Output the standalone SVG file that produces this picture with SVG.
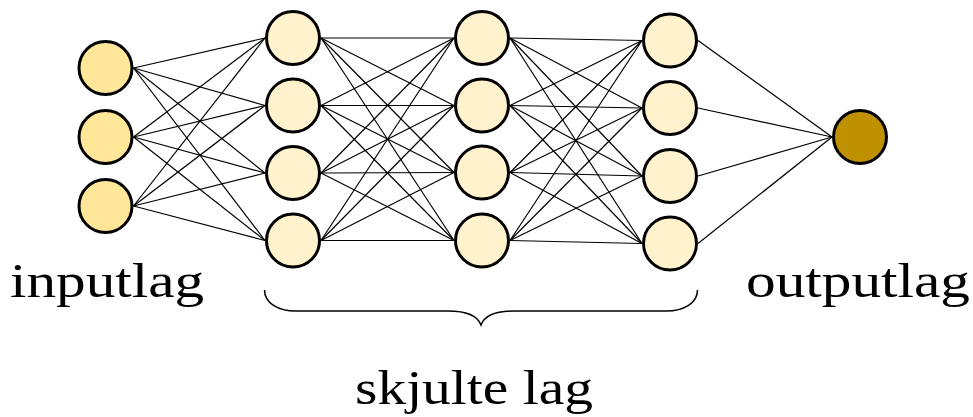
<svg xmlns="http://www.w3.org/2000/svg" width="973" height="417" viewBox="0 0 973 417">
<style>
.e{stroke:#000;stroke-width:1.2;fill:none}
.n{stroke:#000;stroke-width:3}
.in{fill:#FFE699}
.hid{fill:#FFF2CC}
.out{fill:#BF9000}
.t{font-family:"Liberation Serif","Times New Roman",serif;font-size:48px;fill:#000}
</style>
<rect width="973" height="417" fill="#fff"/>
<g id="connectors" class="e">
<line x1="133.5" y1="68" x2="265" y2="38"/><line x1="133.5" y1="68" x2="265" y2="105.5"/><line x1="133.5" y1="68" x2="265" y2="173"/><line x1="133.5" y1="68" x2="265" y2="240.5"/>
<line x1="133.5" y1="137" x2="265" y2="38"/><line x1="133.5" y1="137" x2="265" y2="105.5"/><line x1="133.5" y1="137" x2="265" y2="173"/><line x1="133.5" y1="137" x2="265" y2="240.5"/>
<line x1="133.5" y1="206" x2="265" y2="38"/><line x1="133.5" y1="206" x2="265" y2="105.5"/><line x1="133.5" y1="206" x2="265" y2="173"/><line x1="133.5" y1="206" x2="265" y2="240.5"/>
<line x1="321" y1="38" x2="454" y2="38"/><line x1="321" y1="38" x2="454" y2="105.5"/><line x1="321" y1="38" x2="454" y2="172.5"/><line x1="321" y1="38" x2="454" y2="240.5"/>
<line x1="321" y1="105.5" x2="454" y2="38"/><line x1="321" y1="105.5" x2="454" y2="105.5"/><line x1="321" y1="105.5" x2="454" y2="172.5"/><line x1="321" y1="105.5" x2="454" y2="240.5"/>
<line x1="321" y1="173" x2="454" y2="38"/><line x1="321" y1="173" x2="454" y2="105.5"/><line x1="321" y1="173" x2="454" y2="172.5"/><line x1="321" y1="173" x2="454" y2="240.5"/>
<line x1="321" y1="240.5" x2="454" y2="38"/><line x1="321" y1="240.5" x2="454" y2="105.5"/><line x1="321" y1="240.5" x2="454" y2="172.5"/><line x1="321" y1="240.5" x2="454" y2="240.5"/>
<line x1="510" y1="38" x2="642" y2="40.5"/><line x1="510" y1="38" x2="642" y2="108"/><line x1="510" y1="38" x2="642" y2="176"/><line x1="510" y1="38" x2="642" y2="243.5"/>
<line x1="510" y1="105.5" x2="642" y2="40.5"/><line x1="510" y1="105.5" x2="642" y2="108"/><line x1="510" y1="105.5" x2="642" y2="176"/><line x1="510" y1="105.5" x2="642" y2="243.5"/>
<line x1="510" y1="172.5" x2="642" y2="40.5"/><line x1="510" y1="172.5" x2="642" y2="108"/><line x1="510" y1="172.5" x2="642" y2="176"/><line x1="510" y1="172.5" x2="642" y2="243.5"/>
<line x1="510" y1="240.5" x2="642" y2="40.5"/><line x1="510" y1="240.5" x2="642" y2="108"/><line x1="510" y1="240.5" x2="642" y2="176"/><line x1="510" y1="240.5" x2="642" y2="243.5"/>
<line x1="698" y1="40.5" x2="832" y2="137"/><line x1="698" y1="108" x2="832" y2="137"/><line x1="698" y1="176" x2="832" y2="137"/><line x1="698" y1="243.5" x2="832" y2="137"/>
</g>
<g id="input1"><circle class="n in" cx="105.5" cy="68" r="26.5"/></g>
<g id="input2"><circle class="n in" cx="105.5" cy="137" r="26.5"/></g>
<g id="input3"><circle class="n in" cx="105.5" cy="206" r="26.5"/></g>
<g id="h1a"><circle class="n hid" cx="293" cy="38" r="26.5"/></g>
<g id="h1b"><circle class="n hid" cx="293" cy="105.5" r="26.5"/></g>
<g id="h1c"><circle class="n hid" cx="293" cy="173" r="26.5"/></g>
<g id="h1d"><circle class="n hid" cx="293" cy="240.5" r="26.5"/></g>
<g id="h2a"><circle class="n hid" cx="482" cy="38" r="26.5"/></g>
<g id="h2b"><circle class="n hid" cx="482" cy="105.5" r="26.5"/></g>
<g id="h2c"><circle class="n hid" cx="482" cy="172.5" r="26.5"/></g>
<g id="h2d"><circle class="n hid" cx="482" cy="240.5" r="26.5"/></g>
<g id="h3a"><circle class="n hid" cx="670" cy="40.5" r="26.5"/></g>
<g id="h3b"><circle class="n hid" cx="670" cy="108" r="26.5"/></g>
<g id="h3c"><circle class="n hid" cx="670" cy="176" r="26.5"/></g>
<g id="h3d"><circle class="n hid" cx="670" cy="243.5" r="26.5"/></g>
<g id="output"><circle class="n out" cx="860" cy="137" r="26.5"/></g>
<g id="brace"><path d="M264.5,290 C264.5,303 278,311 296,311 L448,311 C468,311 478,317 481,325 C484,317 494,311 514,311 L666,311 C684,311 697.5,303 697.5,290" fill="none" stroke="#000" stroke-width="1.5"/></g>
<g id="labels">
<text class="t" x="10" y="297" textLength="194" lengthAdjust="spacingAndGlyphs">inputlag</text>
<text class="t" x="746" y="297" textLength="224" lengthAdjust="spacingAndGlyphs">outputlag</text>
<text class="t" x="355" y="404" textLength="238" lengthAdjust="spacingAndGlyphs">skjulte lag</text>
</g>
</svg>
